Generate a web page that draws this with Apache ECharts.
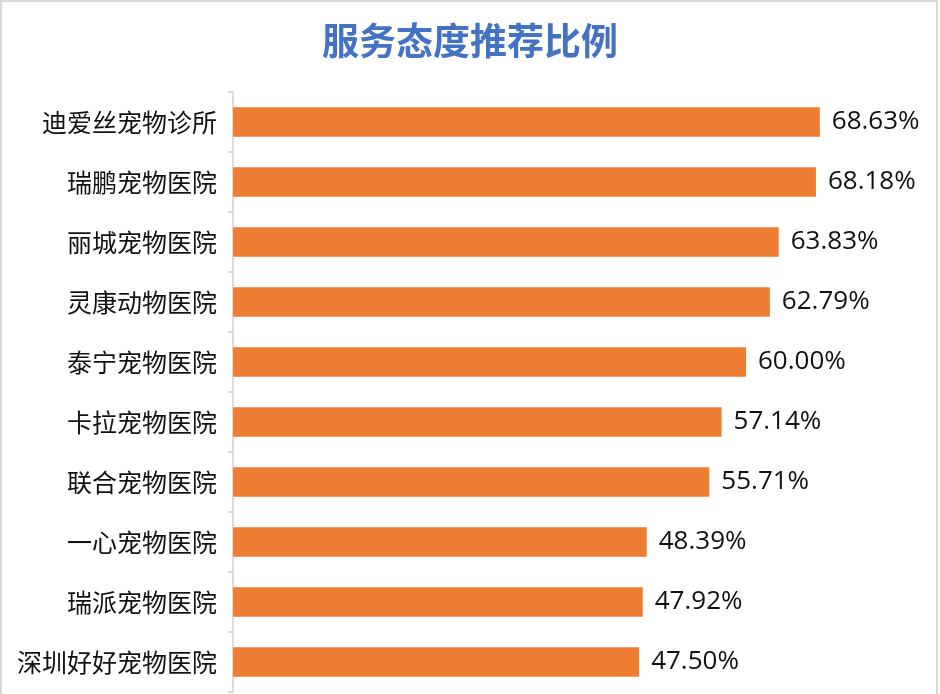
<!DOCTYPE html>
<html>
<head>
<meta charset="utf-8">
<script src="https://cdn.jsdelivr.net/npm/echarts@6/dist/echarts.min.js"></script>
<style>
html,body{margin:0;padding:0;background:#fff;}
#chart{width:940px;height:694px;}
</style>
</head>
<body>
<div id="chart"></div>
<script>
const titleText = '服务态度推荐比例';
const categories = ['迪爱丝宠物诊所','瑞鹏宠物医院','丽城宠物医院','灵康动物医院','泰宁宠物医院','卡拉宠物医院','联合宠物医院','一心宠物医院','瑞派宠物医院','深圳好好宠物医院'];
const values = [68.63, 68.18, 63.83, 62.79, 60.00, 57.14, 55.71, 48.39, 47.92, 47.50];

const chart = echarts.init(document.getElementById('chart'));
chart.setOption({
  backgroundColor: '#fff',
  animation: false,
  graphic: [{
    type: 'rect',
    shape: {x: 1, y: 1, width: 936, height: 720},
    style: {fill: 'none', stroke: '#d9d9d9', lineWidth: 2},
    silent: true, z: 0
  }],
  title: {
    text: titleText,
    left: 'center',
    top: 17,
    textStyle: {color: '#4472C4', fontSize: 37, fontWeight: 'bold', fontFamily: 'Noto Sans CJK SC'}
  },
  grid: {left: 233, right: 23, top: 92, bottom: 2, containLabel: false},
  xAxis: {
    type: 'value', min: 0, max: 80, show: false
  },
  yAxis: {
    type: 'category',
    data: categories,
    inverse: true,
    axisLine: {show: true, lineStyle: {color: '#d0d0d0', width: 1.5}},
    axisTick: {show: true, length: 5, lineStyle: {color: '#d0d0d0', width: 1.5}},
    axisLabel: {color: '#111', fontSize: 25, margin: 16, fontFamily: 'Noto Sans CJK SC'},
    splitLine: {show: false}
  },
  series: [{
    type: 'bar',
    data: values,
    barWidth: '49%',
    itemStyle: {color: '#ED7D31'},
    label: {
      show: true,
      position: 'right',
      distance: 12,
      color: '#111',
      fontSize: 26,
      fontFamily: 'Open Sans',
      formatter: p => p.value.toFixed(2) + '%'
    }
  }]
});
</script>
</body>
</html>
